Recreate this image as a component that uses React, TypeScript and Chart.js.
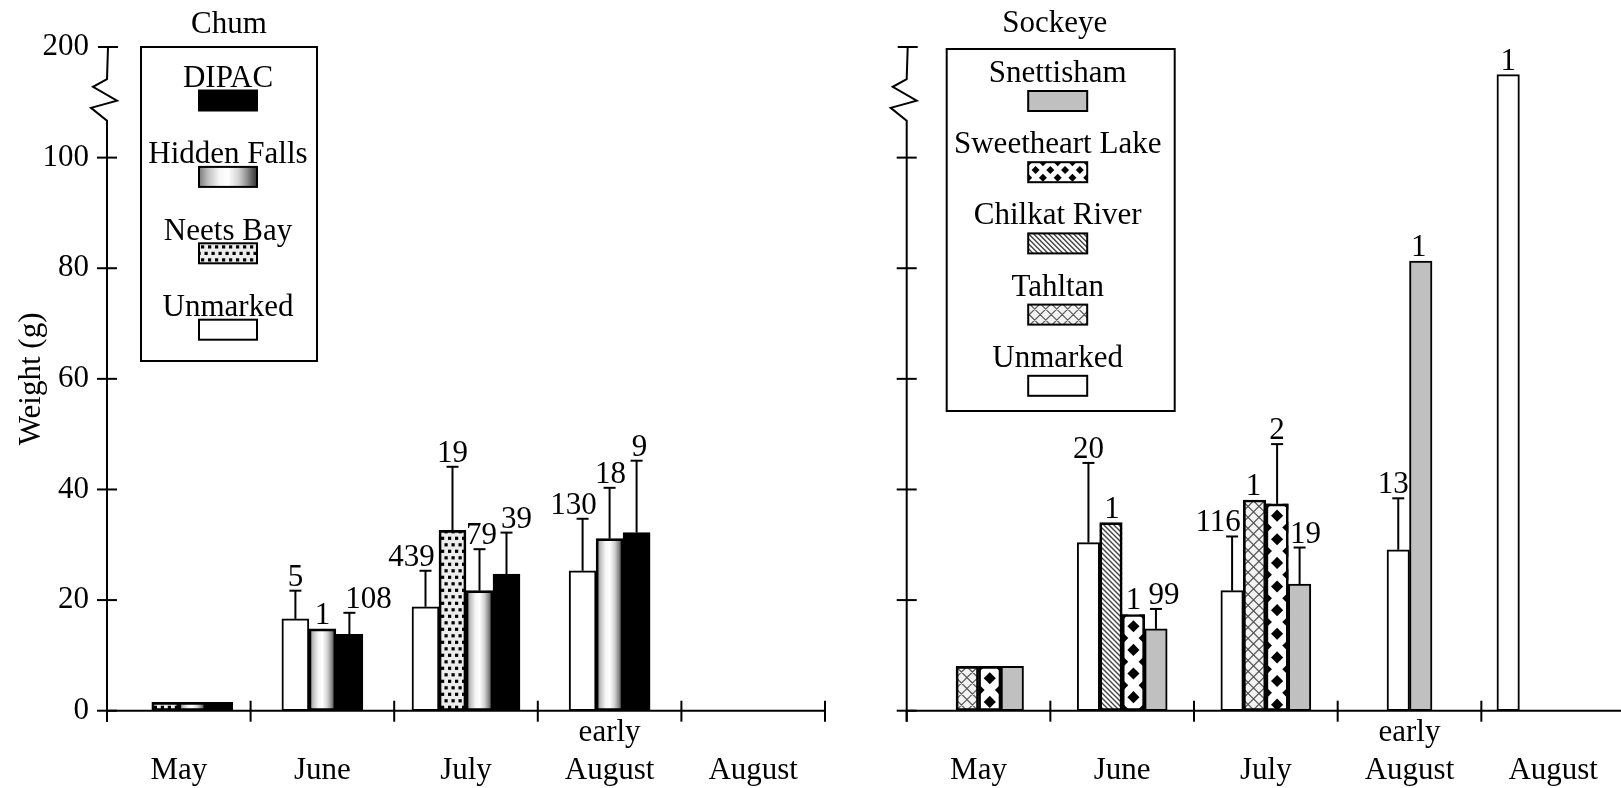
import React, { useEffect, useRef } from 'react';
import { Chart, registerables, LinearScale } from 'chart.js';

Chart.register(...registerables);

// ---------- data ----------
const categories = [['', 'May'], ['', 'June'], ['', 'July'], ['early', 'August'], ['', 'August']];
const yTickValues = [0, 20, 40, 60, 80, 100, 200];

// Chum
const chumUnmarked = [null, 16.6, 18.8, 25.3, null];
const chumUnmarkedErr = [null, 21.7, 25.3, 34.7, null];
const chumUnmarkedN = [null, '5', '439', '130', null];
const chumNeets = [1.5, null, 32.6, null, null];
const chumNeetsErr = [null, null, 44.1, null, null];
const chumNeetsN = [null, null, '19', null, null];
const chumHidden = [1.5, 14.8, 21.7, 31.1, null];
const chumHiddenErr = [null, null, 29.2, 40.3, null];
const chumHiddenN = [null, '1', '79', '18', null];
const chumDipac = [1.5, 13.8, 24.7, 32.2, null];
const chumDipacErr = [null, 17.7, 32.2, 45.2, null];
const chumDipacN = [null, '108', '39', '9', null];
// empty slots kept in the group layout: [series label, category index]
const chumEmptySlots: [string, number][] = [['Unmarked', 0]];

// Sockeye
const sockUnmarked = [null, 30.4, 21.7, 29.1, 175];
const sockUnmarkedErr = [null, 44.8, 31.5, 38.4, null];
const sockUnmarkedN = [null, '20', '116', '13', '1'];
const sockTahltan = [8, null, 38.1, null, null];
const sockTahltanErr = [null, null, null, null, null];
const sockTahltanN = [null, null, '1', null, null];
const sockChilkat = [null, 34.0, null, null, null];
const sockChilkatErr = [null, null, null, null, null];
const sockChilkatN = [null, '1', null, null, null];
const sockSweet = [8, 17.4, 37.4, null, null];
const sockSweetErr = [null, null, 48.2, null, null];
const sockSweetN = [null, '1', '2', null, null];
const sockSnett = [8, 14.8, 22.9, 81.3, null];
const sockSnettErr = [null, 18.4, 29.5, null, null];
const sockSnettN = [null, '99', '19', '1', null];
const sockEmptySlots: [string, number][] = [
  ['Unmarked', 0], ['Tahltan', 4], ['Chilkat River', 4], ['Sweetheart Lake', 4], ['Snettisham', 4],
];

// ---------- style ----------
const FONT = '"Liberation Serif", "Times New Roman", serif';
const FS = 31;
const AXIS_BREAK = 100;
const AXIS_TOP = 200;
const BREAK_FACTOR = 0.2;

class BrokenLinearScale extends (LinearScale as any) {
  static id = 'brokenLinear';
  static defaults = { ...(LinearScale as any).defaults };
  getPixelForValue(value: number) {
    const v = value > AXIS_BREAK ? AXIS_BREAK + (value - AXIS_BREAK) * BREAK_FACTOR : value;
    return super.getPixelForValue(v);
  }
}
Chart.register(BrokenLinearScale as any);

type Series = {
  label: string;
  data: (number | null)[];
  err: (number | null)[];
  n: (string | null)[];
  fill: string;
  nudge: number[];
};

const chumSeries: Series[] = [
  { label: 'Unmarked', data: chumUnmarked, err: chumUnmarkedErr, n: chumUnmarkedN, fill: '#ffffff', nudge: [0, 0, -14, -9, 0] },
  { label: 'Neets Bay', data: chumNeets, err: chumNeetsErr, n: chumNeetsN, fill: 'dots', nudge: [0, 0, 0, 0, 0] },
  { label: 'Hidden Falls', data: chumHidden, err: chumHiddenErr, n: chumHiddenN, fill: 'gradient', nudge: [0, 0, 2, 1, 0] },
  { label: 'DIPAC', data: chumDipac, err: chumDipacErr, n: chumDipacN, fill: '#000000', nudge: [0, 19, 10, 3, 0] },
];

const sockSeries: Series[] = [
  { label: 'Unmarked', data: sockUnmarked, err: sockUnmarkedErr, n: sockUnmarkedN, fill: '#ffffff', nudge: [0, 0, -14, -5, 0] },
  { label: 'Tahltan', data: sockTahltan, err: sockTahltanErr, n: sockTahltanN, fill: 'cross', nudge: [0, 0, -1, 0, 0] },
  { label: 'Chilkat River', data: sockChilkat, err: sockChilkatErr, n: sockChilkatN, fill: 'hatch', nudge: [0, 1, 0, 0, 0] },
  { label: 'Sweetheart Lake', data: sockSweet, err: sockSweetErr, n: sockSweetN, fill: 'diamonds', nudge: [0, 0, 0, 0, 0] },
  { label: 'Snettisham', data: sockSnett, err: sockSnettErr, n: sockSnettN, fill: '#c0c0c0', nudge: [0, 8, 6, -2, 0] },
];

function paintFill(ctx: CanvasRenderingContext2D, kind: string, x: number, y: number, w: number, h: number) {
  ctx.save();
  ctx.beginPath();
  ctx.rect(x, y, w, h);
  ctx.clip();
  if (kind.startsWith('#')) {
    ctx.fillStyle = kind;
    ctx.fillRect(x, y, w, h);
  } else if (kind === 'gradient') {
    const g = ctx.createLinearGradient(x, 0, x + w, 0);
    g.addColorStop(0, '#7a7a7a');
    g.addColorStop(0.15, '#bdbdbd');
    g.addColorStop(0.35, '#f6f6f6');
    g.addColorStop(0.5, '#ffffff');
    g.addColorStop(0.68, '#d4d4d4');
    g.addColorStop(0.82, '#939393');
    g.addColorStop(0.93, '#555555');
    g.addColorStop(1, '#333333');
    ctx.fillStyle = g;
    ctx.fillRect(x, y, w, h);
  } else if (kind === 'dots') {
    ctx.fillStyle = '#ececec';
    ctx.fillRect(x, y, w, h);
    ctx.fillStyle = '#000';
    let r = 0;
    for (let yy = y + h; yy > y - 7; yy -= 6.5, r++) {
      const off = r % 2 ? 3.5 : 0;
      for (let xx = x + off - 7; xx < x + w; xx += 7) {
        ctx.fillRect(xx + 2, yy - 5, 3.2, 3.2);
      }
    }
  } else if (kind === 'diamonds') {
    ctx.fillStyle = '#ffffff';
    ctx.fillRect(x, y, w, h);
    ctx.fillStyle = '#000';
    const tw = w > 40 ? w / 4 : w;
    const th = tw * 1.05;
    const d = tw * 0.27;
    let r = 0;
    for (let cy = y; cy < y + h + th; cy += th / 2, r++) {
      const start = r % 2 ? x + tw / 2 : x;
      for (let cx = start; cx <= x + w + 0.5; cx += tw) {
        ctx.beginPath();
        ctx.moveTo(cx, cy - d);
        ctx.lineTo(cx + d, cy);
        ctx.lineTo(cx, cy + d);
        ctx.lineTo(cx - d, cy);
        ctx.closePath();
        ctx.fill();
      }
    }
  } else if (kind === 'hatch') {
    ctx.fillStyle = '#ffffff';
    ctx.fillRect(x, y, w, h);
    ctx.strokeStyle = '#444';
    ctx.lineWidth = 1.4;
    ctx.beginPath();
    for (let k = -h; k < w + h; k += 5) {
      ctx.moveTo(x + k, y);
      ctx.lineTo(x + k + h, y + h);
    }
    ctx.stroke();
  } else if (kind === 'cross') {
    ctx.fillStyle = '#f3f3f3';
    ctx.fillRect(x, y, w, h);
    ctx.strokeStyle = '#555';
    ctx.lineWidth = 1.2;
    ctx.beginPath();
    for (let k = -h; k < w + h; k += 11) {
      ctx.moveTo(x + k, y);
      ctx.lineTo(x + k + h, y + h);
      ctx.moveTo(x + k, y + h);
      ctx.lineTo(x + k + h, y);
    }
    ctx.stroke();
  }
  ctx.restore();
}

type LegendCfg = {
  dx: number; dy: number; w: number; h: number;
  first: number; step: number; gap: number; sw: number; sh: number; cx: number;
};

type Cfg = {
  series: Series[];
  emptySlots: [string, number][];
  title: string;
  titleDx: number;
  titleY: number;
  yLabels: boolean;
  yAxisWidth: number;
  padRight: number;
  barThickness: number;
  legend: LegendCfg;
};

function line(ctx: CanvasRenderingContext2D, x1: number, y1: number, x2: number, y2: number) {
  ctx.beginPath();
  ctx.moveTo(x1, y1);
  ctx.lineTo(x2, y2);
  ctx.stroke();
}

function buildChart(canvas: HTMLCanvasElement, cfg: Cfg) {
  const { series } = cfg;
  const fillPlugin = {
    id: 'customFills',
    beforeDatasetsDraw(chart: any) {
      const ctx = chart.ctx;
      series.forEach((s, di) => {
        if (s.fill.startsWith('#')) return;
        const meta = chart.getDatasetMeta(di);
        meta.data.forEach((el: any, i: number) => {
          if (s.data[i] == null) return;
          const top = Math.min(el.y, el.base);
          paintFill(ctx, s.fill, el.x - el.width / 2, top, el.width, Math.abs(el.base - el.y));
        });
      });
    },
  };

  const decoPlugin = {
    id: 'deco',
    afterDatasetsDraw(chart: any) {
      const ctx: CanvasRenderingContext2D = chart.ctx;
      const { left, right } = chart.chartArea;
      const ys = chart.scales.y;
      const xs = chart.scales.x;
      const y0 = ys.getPixelForValue(0);
      const y100 = ys.getPixelForValue(AXIS_BREAK);
      const y200 = ys.getPixelForValue(AXIS_TOP);
      const span = y100 - y200;
      ctx.save();
      ctx.strokeStyle = '#000';
      ctx.lineWidth = 2;
      ctx.lineJoin = 'miter';
      // y axis with break
      const zig: [number, number][] = [[0, 0.333], [-16, 0.45], [10, 0.514], [-14, 0.64], [0, 0.71], [1, 1]];
      ctx.beginPath();
      ctx.moveTo(left, y0 + 11);
      ctx.lineTo(left, y100);
      zig.forEach(([dx, t]) => ctx.lineTo(left + dx, y100 - t * span));
      ctx.stroke();
      yTickValues.forEach((v) => {
        const py = ys.getPixelForValue(v);
        const ax = v === AXIS_TOP ? left + 1 : left;
        line(ctx, ax - 10, py, ax + 10, py);
      });
      // x axis
      line(ctx, left, y0, right, y0);
      for (let i = 0; i <= categories.length; i++) {
        const px = xs.getPixelForValue(i - 0.5);
        line(ctx, px, y0 - (i === 0 ? 0 : 10), px, y0 + 11);
      }
      // error bars and counts
      ctx.font = `${FS}px ${FONT}`;
      ctx.fillStyle = '#000';
      ctx.textAlign = 'center';
      ctx.textBaseline = 'alphabetic';
      series.forEach((s, di) => {
        const meta = chart.getDatasetMeta(di);
        meta.data.forEach((el: any, i: number) => {
          if (s.data[i] == null) return;
          let topY = el.y;
          const e = s.err[i];
          if (e != null) {
            const ey = ys.getPixelForValue(e);
            line(ctx, el.x, el.y, el.x, ey);
            line(ctx, el.x - 6, ey, el.x + 6, ey);
            topY = ey;
          }
          const n = s.n[i];
          if (n) ctx.fillText(n, el.x + s.nudge[i], topY - 5);
        });
      });
      ctx.restore();
    },
    afterDraw(chart: any) {
      const ctx: CanvasRenderingContext2D = chart.ctx;
      const { left, top } = chart.chartArea;
      const lg = cfg.legend;
      ctx.save();
      ctx.fillStyle = '#000';
      ctx.font = `${FS}px ${FONT}`;
      ctx.textAlign = 'center';
      ctx.textBaseline = 'alphabetic';
      ctx.fillText(cfg.title, left + cfg.titleDx, cfg.titleY);
      const bx = left + lg.dx;
      const by = top + lg.dy;
      ctx.strokeStyle = '#000';
      ctx.lineWidth = 2;
      ctx.strokeRect(bx, by, lg.w, lg.h);
      const items = [...series].reverse();
      items.forEach((s, k) => {
        const base = by + lg.first + k * lg.step;
        const cx = bx + lg.cx;
        ctx.fillStyle = '#000';
        ctx.fillText(s.label, cx, base);
        const sx = cx - lg.sw / 2;
        const sy = base + lg.gap;
        paintFill(ctx, s.fill, sx, sy, lg.sw, lg.sh);
        ctx.strokeRect(sx, sy, lg.sw, lg.sh);
      });
      ctx.restore();
    },
  };

  const yMax = AXIS_BREAK + (AXIS_TOP - AXIS_BREAK) * BREAK_FACTOR;

  return new Chart(canvas, {
    type: 'bar',
    data: {
      labels: categories as any,
      datasets: series.map((s) => ({
        label: s.label,
        // an empty slot keeps its place in the group as a zero-height (invisible) bar
        data: s.data.map((v, i) =>
          v != null ? v : cfg.emptySlots.some(([l, c]) => l === s.label && c === i) ? 0 : null
        ) as any,
        backgroundColor: s.fill.startsWith('#') ? s.fill : 'rgba(0,0,0,0)',
        borderColor: '#000',
        borderWidth: 2,
        borderSkipped: false,
        barThickness: cfg.barThickness,
        skipNull: true,
      })),
    },
    options: {
      responsive: false,
      animation: false,
      devicePixelRatio: 1,
      events: [],
      layout: { padding: { left: 0, right: cfg.padRight, top: 47, bottom: 0 } },
      plugins: { legend: { display: false }, tooltip: { enabled: false }, title: { display: false } },
      scales: {
        x: {
          type: 'category',
          offset: true,
          grid: { display: false, drawTicks: false },
          border: { display: false },
          ticks: {
            autoSkip: false,
            maxRotation: 0,
            minRotation: 0,
            padding: 4,
            color: '#000',
            font: { family: FONT, size: FS, lineHeight: 1.2 },
          },
          afterFit: (s: any) => { s.height = 77.3; },
        },
        y: {
          type: 'brokenLinear' as any,
          min: 0,
          max: yMax,
          bounds: 'data',
          grid: { display: false, drawTicks: false },
          border: { display: false },
          afterBuildTicks: (s: any) => { s.ticks = yTickValues.map((v) => ({ value: v })); },
          afterFit: (s: any) => { s.width = cfg.yAxisWidth; },
          ticks: {
            display: cfg.yLabels,
            autoSkip: false,
            padding: 18,
            color: '#000',
            font: { family: FONT, size: FS },
            callback: (v: any) => String(v),
          },
          title: {
            display: cfg.yLabels,
            text: 'Weight (g)',
            color: '#000',
            font: { family: FONT, size: FS, lineHeight: 1.2 },
            padding: { top: 13, bottom: 0 },
          },
        } as any,
      },
    },
    plugins: [fillPlugin, decoPlugin],
  } as any);
}

export default function App() {
  const leftRef = useRef<HTMLCanvasElement>(null);
  const rightRef = useRef<HTMLCanvasElement>(null);

  useEffect(() => {
    const c1 = buildChart(leftRef.current!, {
      series: chumSeries,
      emptySlots: chumEmptySlots,
      title: 'Chum',
      titleDx: 122,
      titleY: 33,
      yLabels: true,
      yAxisWidth: 107,
      padRight: 15,
      barThickness: 27,
      legend: { dx: 34, dy: 0, w: 176, h: 314, first: 40, step: 76.4, gap: 3.5, sw: 58, sh: 20, cx: 87 },
    });
    const c2 = buildChart(rightRef.current!, {
      series: sockSeries,
      emptySlots: sockEmptySlots,
      title: 'Sockeye',
      titleDx: 148,
      titleY: 32,
      yLabels: false,
      yAxisWidth: 66.7,
      padRight: 1,
      barThickness: 22.5,
      legend: { dx: 40, dy: 2, w: 228, h: 362, first: 33, step: 71.2, gap: 9, sw: 59, sh: 20, cx: 111 },
    });
    return () => {
      c1.destroy();
      c2.destroy();
    };
  }, []);

  return (
    <div style={{ position: 'absolute', left: 0, top: 0, width: 1621, height: 788, overflow: 'hidden', background: '#fff' }}>
      <canvas ref={leftRef} width={840} height={788} style={{ position: 'absolute', left: 0, top: 0 }} />
      <canvas ref={rightRef} width={786} height={788} style={{ position: 'absolute', left: 840, top: 0 }} />
    </div>
  );
}
